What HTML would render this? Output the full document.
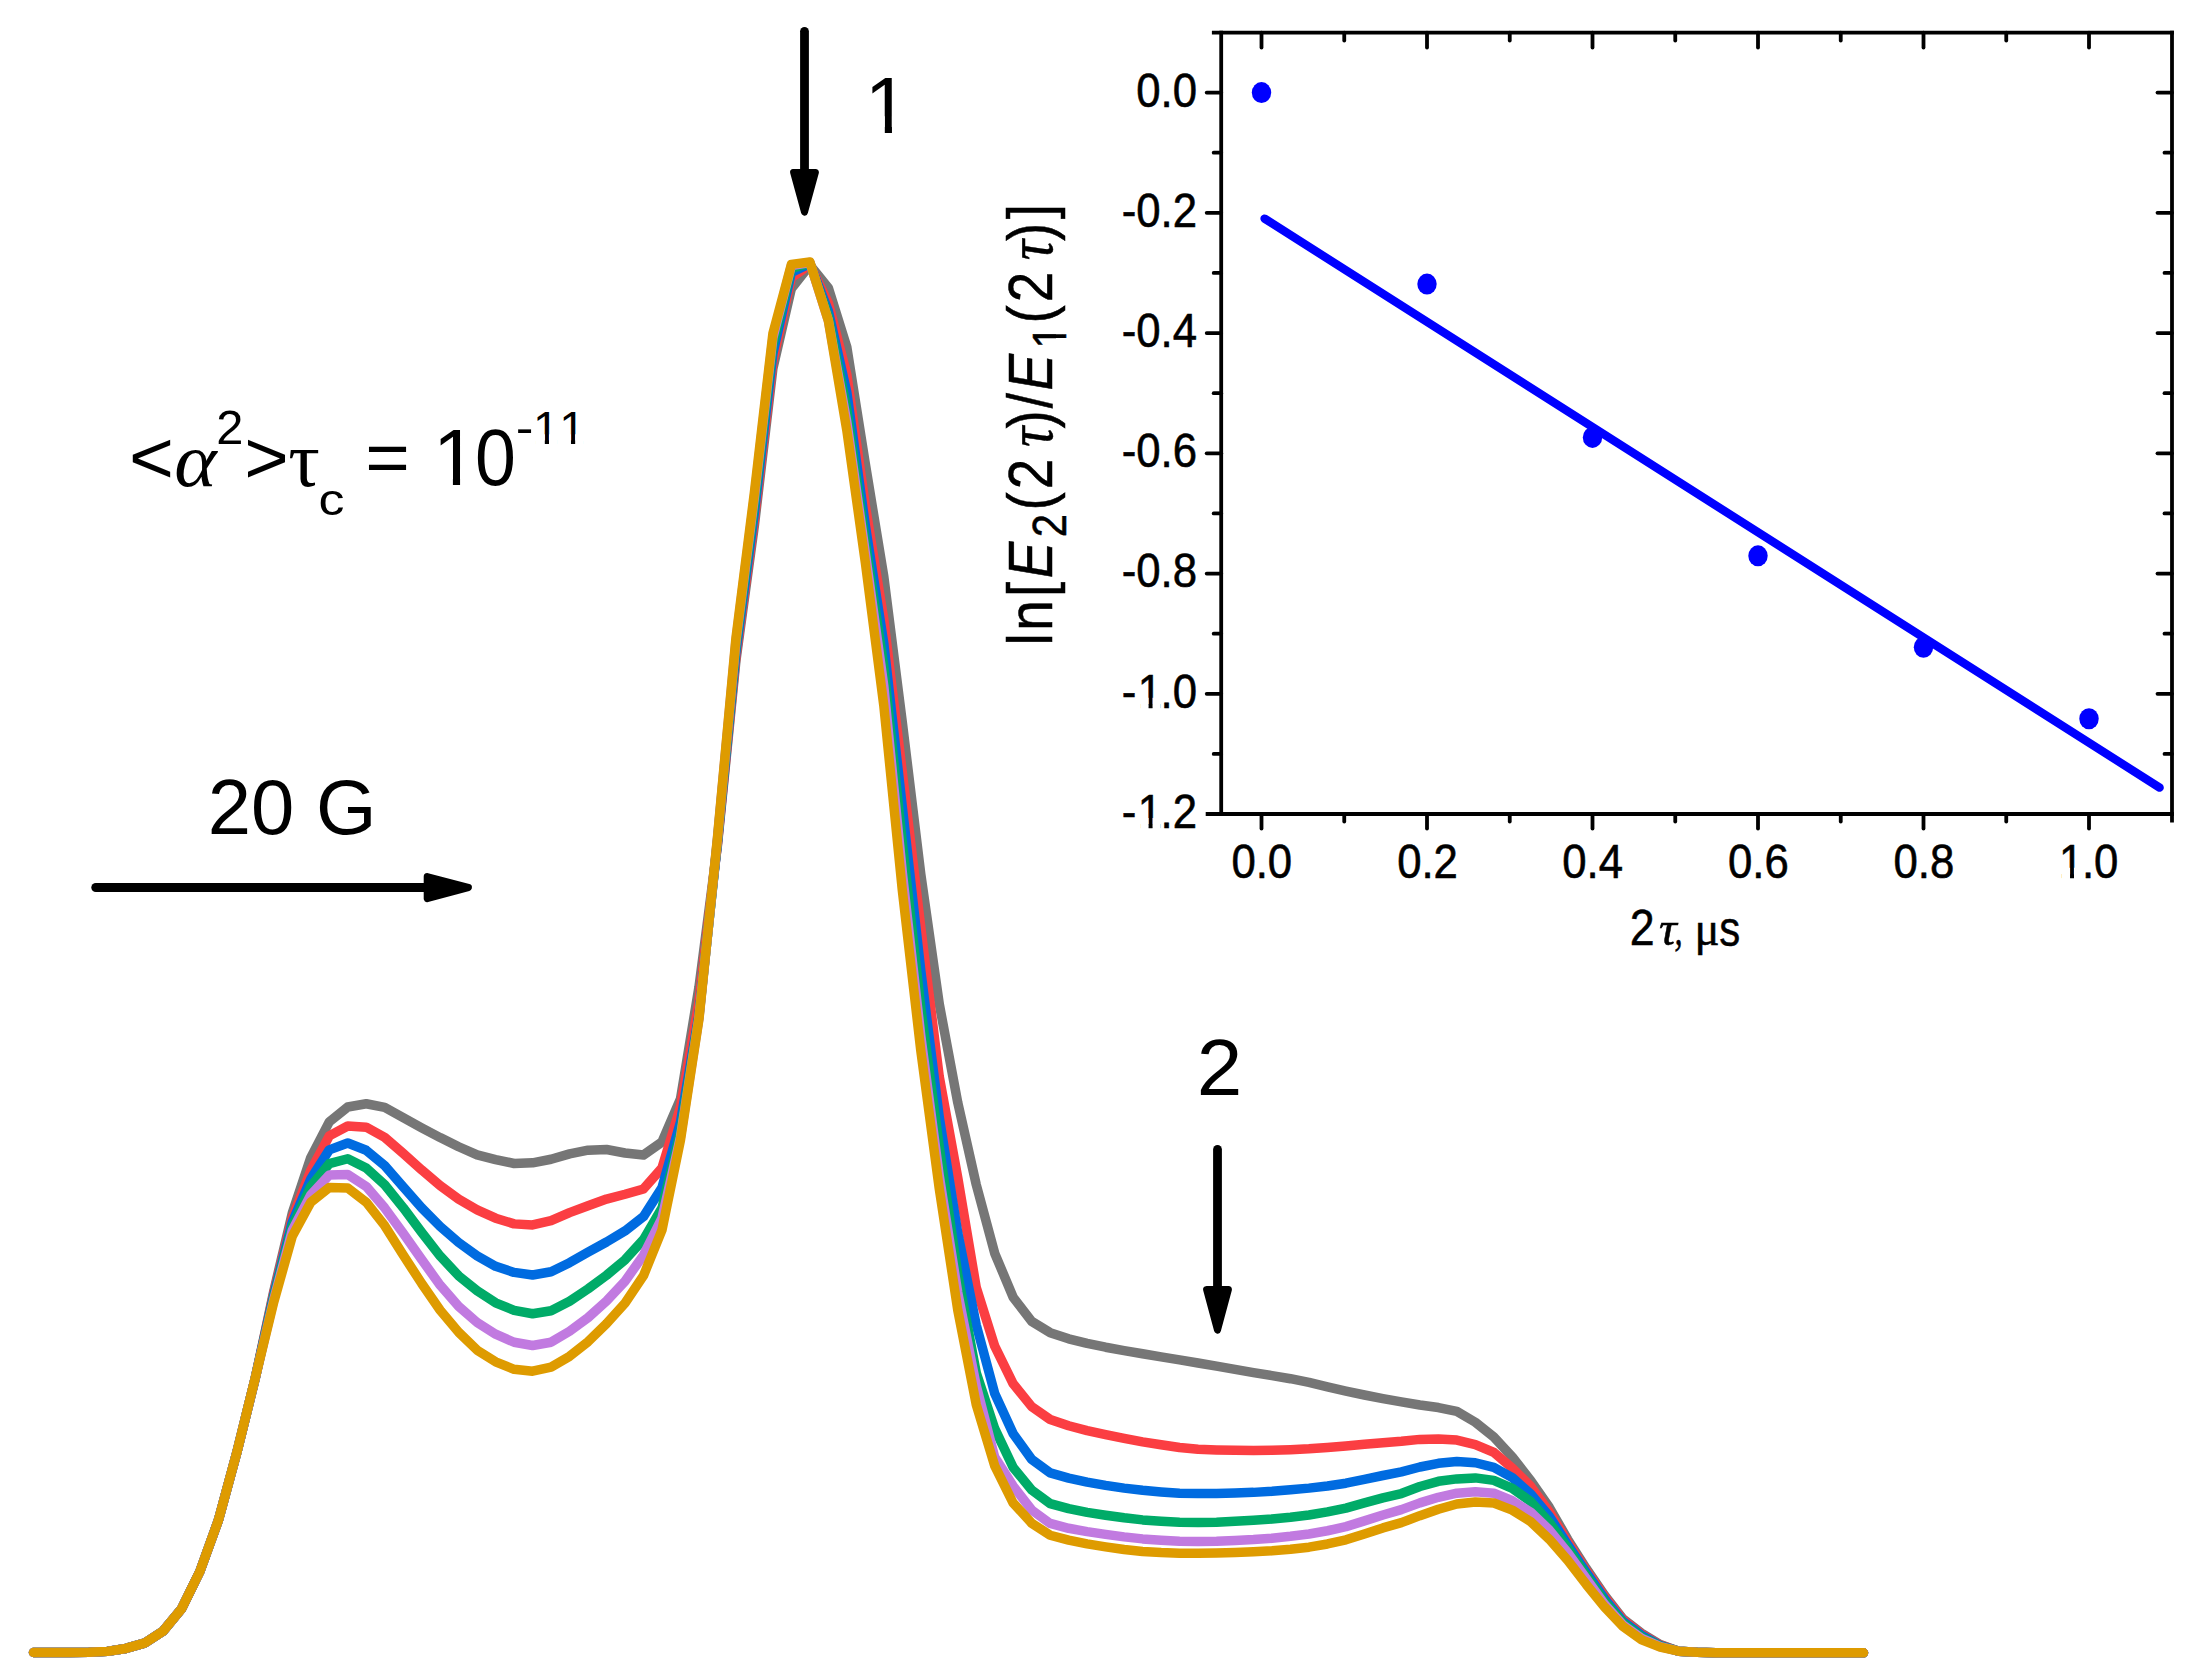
<!DOCTYPE html>
<html lang="en"><head><meta charset="utf-8">
<title>Echo-detected EPR spectra and relaxation inset</title>
<style>
html,body{margin:0;padding:0;background:#fff;}
body{width:2211px;height:1680px;overflow:hidden;}
svg{display:block;}
.sans{font-family:"Liberation Sans", Arial, Helvetica, sans-serif;}
.serif{font-family:"Liberation Serif", "Times New Roman", serif;}
</style></head><body>
<svg width="2211" height="1680" viewBox="0 0 2211 1680">
<rect x="0" y="0" width="2211" height="1680" fill="#ffffff"/>
<g fill="none" stroke-width="9.5" stroke-linejoin="round" stroke-linecap="round" transform="scale(1.0,1)">
<polyline stroke="#767676" points="33.5,1652.5 51.98,1652.48 70.47,1652.43 88.95,1652.34 107.44,1651.37 125.92,1648.44 144.41,1643.15 162.89,1631.36 181.38,1609.07 199.87,1571.5 218.35,1520.38 236.83,1452.62 255.32,1377.9 273.81,1290.98 292.29,1213.04 310.77,1157.56 329.26,1121.85 347.75,1106.97 366.23,1103.75 384.71,1107.42 403.2,1117.71 421.69,1127.9 440.17,1137.61 458.65,1146.77 477.14,1154.89 495.62,1159.57 514.11,1163.51 532.6,1162.85 551.08,1159.25 569.56,1153.85 588.05,1150.15 606.53,1149.54 625.02,1153 643.5,1155 661.99,1142 680.48,1099 698.96,987 717.44,845.38 735.93,660.59 754.41,525.3 772.9,368.42 791.38,288.5 809.87,265 828.36,288 846.84,347.27 865.32,463.81 883.81,576.56 902.29,722.19 920.78,873.95 939.26,1003.95 957.75,1102.51 976.24,1184.63 994.72,1253.33 1013.2,1297.33 1031.69,1321.39 1050.17,1332.67 1068.66,1338.82 1087.14,1343.41 1105.63,1347.21 1124.12,1350.58 1142.6,1353.74 1161.09,1356.87 1179.57,1359.91 1198.06,1362.97 1216.54,1366.16 1235.02,1369.4 1253.51,1372.6 1271.99,1375.6 1290.48,1378.71 1308.96,1382.42 1327.45,1386.87 1345.93,1391.1 1364.42,1395.02 1382.9,1398.64 1401.39,1401.89 1419.88,1404.95 1438.36,1407.54 1456.85,1411.44 1475.33,1422.25 1493.82,1436.92 1512.3,1456.97 1530.78,1480.61 1549.27,1507.25 1567.75,1539.46 1586.24,1568.53 1604.72,1595.4 1623.21,1619.1 1641.69,1633.26 1660.18,1644.52 1678.66,1651.19 1697.15,1652.35 1715.63,1652.68 1734.12,1652.79 1752.61,1652.8 1771.09,1652.8 1789.58,1652.8 1808.06,1652.8 1826.54,1652.8 1845.03,1652.8 1863.51,1652.8"/>
<polyline stroke="#fb3e42" points="33.5,1652.5 51.98,1652.48 70.47,1652.43 88.95,1652.34 107.44,1651.37 125.92,1648.44 144.41,1643.15 162.89,1631.36 181.38,1609.07 199.87,1571.5 218.35,1520.38 236.83,1452.62 255.32,1377.87 273.81,1292.98 292.29,1218.03 310.77,1170.56 329.26,1135.92 347.75,1126 366.23,1127.18 384.71,1137.31 403.2,1153.38 421.69,1169.97 440.17,1185.63 458.65,1199.11 477.14,1209.82 495.62,1218.18 514.11,1223.88 532.6,1224.95 551.08,1220.68 569.56,1212.68 588.05,1205.71 606.53,1199.07 625.02,1194.25 643.5,1188.96 661.99,1168 680.48,1107 698.96,1002 717.44,844.07 735.93,656.35 754.41,519.34 772.9,361.13 791.38,277.5 809.87,264.5 828.36,303 846.84,374.57 865.32,505.42 883.81,619.6 902.29,772.29 920.78,927.27 939.26,1076.71 957.75,1177.58 976.24,1287.52 994.72,1346.22 1013.2,1383.79 1031.69,1406.62 1050.17,1419.48 1068.66,1425.77 1087.14,1430.61 1105.63,1434.7 1124.12,1438.47 1142.6,1441.82 1161.09,1444.73 1179.57,1447.46 1198.06,1449.21 1216.54,1449.91 1235.02,1450.37 1253.51,1450.49 1271.99,1450.21 1290.48,1449.64 1308.96,1448.85 1327.45,1447.44 1345.93,1445.92 1364.42,1444.33 1382.9,1442.76 1401.39,1441.3 1419.88,1439.39 1438.36,1438.95 1456.85,1440.08 1475.33,1444.53 1493.82,1452.45 1512.3,1468.03 1530.78,1486.46 1549.27,1511.75 1567.75,1542.06 1586.24,1570.49 1604.72,1596.88 1623.21,1620.1 1641.69,1634.37 1660.18,1645.04 1678.66,1651.19 1697.15,1652.34 1715.63,1652.68 1734.12,1652.79 1752.61,1652.8 1771.09,1652.8 1789.58,1652.8 1808.06,1652.8 1826.54,1652.8 1845.03,1652.8 1863.51,1652.8"/>
<polyline stroke="#006be0" points="33.5,1652.5 51.98,1652.48 70.47,1652.43 88.95,1652.34 107.44,1651.37 125.92,1648.44 144.41,1643.15 162.89,1631.36 181.38,1609.07 199.87,1571.5 218.35,1520.38 236.83,1452.62 255.32,1377.85 273.81,1294.98 292.29,1222.03 310.77,1179.05 329.26,1149.86 347.75,1143 366.23,1150.29 384.71,1165.72 403.2,1186.93 421.69,1207.85 440.17,1226.51 458.65,1242.51 477.14,1255.78 495.62,1266.34 514.11,1272.41 532.6,1274.97 551.08,1271.72 569.56,1262.73 588.05,1252.11 606.53,1241.98 625.02,1230.91 643.5,1216.59 661.99,1187.5 680.48,1122 698.96,1015 717.44,842.53 735.93,651.57 754.41,512.53 772.9,353.42 791.38,272.5 809.87,263.5 828.36,311 846.84,392.39 865.32,525.42 883.81,643.56 902.29,806.81 920.78,970.65 939.26,1117.22 957.75,1232.88 976.24,1324.88 994.72,1393.45 1013.2,1433.78 1031.69,1459.35 1050.17,1472.87 1068.66,1478.1 1087.14,1482.14 1105.63,1485.4 1124.12,1488.11 1142.6,1490.31 1161.09,1491.93 1179.57,1493.14 1198.06,1493.59 1216.54,1493.44 1235.02,1492.98 1253.51,1492.37 1271.99,1491.32 1290.48,1489.84 1308.96,1488.14 1327.45,1485.97 1345.93,1483.22 1364.42,1479.45 1382.9,1475.52 1401.39,1471.8 1419.88,1466.98 1438.36,1463.29 1456.85,1461.51 1475.33,1462.75 1493.82,1467.33 1512.3,1477.64 1530.78,1493.99 1549.27,1516.28 1567.75,1544.75 1586.24,1572.48 1604.72,1598.97 1623.21,1621.69 1641.69,1635.37 1660.18,1645.56 1678.66,1651.2 1697.15,1652.34 1715.63,1652.68 1734.12,1652.79 1752.61,1652.8 1771.09,1652.8 1789.58,1652.8 1808.06,1652.8 1826.54,1652.8 1845.03,1652.8 1863.51,1652.8"/>
<polyline stroke="#00ab68" points="33.5,1652.5 51.98,1652.48 70.47,1652.43 88.95,1652.34 107.44,1651.37 125.92,1648.44 144.41,1643.15 162.89,1631.36 181.38,1609.07 199.87,1571.5 218.35,1520.38 236.83,1452.62 255.32,1377.82 273.81,1296.98 292.29,1226.03 310.77,1186.54 329.26,1163.67 347.75,1158.75 366.23,1167.91 384.71,1184.7 403.2,1207.66 421.69,1232.42 440.17,1256.07 458.65,1275.85 477.14,1290.75 495.62,1302.82 514.11,1310.35 532.6,1313.72 551.08,1310.73 569.56,1301.25 588.05,1288.89 606.53,1275.25 625.02,1259.79 643.5,1239.58 661.99,1208 680.48,1132 698.96,1016.5 717.44,840.66 735.93,645.97 754.41,504.31 772.9,344.79 791.38,268.5 809.87,263 828.36,316.5 846.84,409.27 865.32,541.5 883.81,666.32 902.29,842.33 920.78,1007.58 939.26,1146.8 957.75,1274.28 976.24,1372.74 994.72,1428.65 1013.2,1467.48 1031.69,1489.97 1050.17,1503.57 1068.66,1508.69 1087.14,1512.33 1105.63,1515.23 1124.12,1517.81 1142.6,1519.9 1161.09,1521.27 1179.57,1522.23 1198.06,1522.5 1216.54,1522.19 1235.02,1521.33 1253.51,1520.3 1271.99,1518.99 1290.48,1517.25 1308.96,1515.03 1327.45,1511.91 1345.93,1508.05 1364.42,1502.95 1382.9,1497.88 1401.39,1493.52 1419.88,1486.54 1438.36,1481.32 1456.85,1478.9 1475.33,1477.9 1493.82,1480.4 1512.3,1488.29 1530.78,1501.57 1549.27,1522.33 1567.75,1548.01 1586.24,1575.06 1604.72,1601.44 1623.21,1623.19 1641.69,1636.88 1660.18,1646.08 1678.66,1651.2 1697.15,1652.34 1715.63,1652.68 1734.12,1652.79 1752.61,1652.8 1771.09,1652.8 1789.58,1652.8 1808.06,1652.8 1826.54,1652.8 1845.03,1652.8 1863.51,1652.8"/>
<polyline stroke="#c17ae0" points="33.5,1652.5 51.98,1652.48 70.47,1652.43 88.95,1652.34 107.44,1651.37 125.92,1648.44 144.41,1643.15 162.89,1631.36 181.38,1609.07 199.87,1571.5 218.35,1520.38 236.83,1452.62 255.32,1377.79 273.81,1299.48 292.29,1230.53 310.77,1195.04 329.26,1174.97 347.75,1174.5 366.23,1186.41 384.71,1207.93 403.2,1233.2 421.69,1259.58 440.17,1285.21 458.65,1306.44 477.14,1322.47 495.62,1334.15 514.11,1342.26 532.6,1345.47 551.08,1342.2 569.56,1331.28 588.05,1317.6 606.53,1300.97 625.02,1281.18 643.5,1255.16 661.99,1218 680.48,1137 698.96,1018 717.44,838.98 735.93,641.12 754.41,496.87 772.9,337.56 791.38,265.5 809.87,262.5 828.36,320.5 846.84,422.06 865.32,552.97 883.81,686.1 902.29,872.2 920.78,1035.73 939.26,1175.82 957.75,1292.55 976.24,1385.78 994.72,1457.16 1013.2,1486.07 1031.69,1510 1050.17,1523.47 1068.66,1528.28 1087.14,1531.67 1105.63,1534.39 1124.12,1536.87 1142.6,1538.9 1161.09,1540.26 1179.57,1541.23 1198.06,1541.5 1216.54,1541.25 1235.02,1540.53 1253.51,1539.61 1271.99,1538.23 1290.48,1536.33 1308.96,1533.98 1327.45,1530.76 1345.93,1526.62 1364.42,1520.85 1382.9,1514.95 1401.39,1509.64 1419.88,1502.9 1438.36,1497.3 1456.85,1493.16 1475.33,1491.65 1493.82,1493.26 1512.3,1500.75 1530.78,1512.26 1549.27,1529.91 1567.75,1552.83 1586.24,1578.5 1604.72,1604.41 1623.21,1625.18 1641.69,1638.39 1660.18,1646.61 1678.66,1651.2 1697.15,1652.33 1715.63,1652.68 1734.12,1652.79 1752.61,1652.8 1771.09,1652.8 1789.58,1652.8 1808.06,1652.8 1826.54,1652.8 1845.03,1652.8 1863.51,1652.8"/>
<polyline stroke="#de9b00" points="33.5,1652.5 51.98,1652.48 70.47,1652.43 88.95,1652.34 107.44,1651.37 125.92,1648.44 144.41,1643.15 162.89,1631.36 181.38,1609.07 199.87,1571.5 218.35,1520.38 236.83,1452.62 255.32,1377.71 273.81,1301.86 292.29,1236.24 310.77,1202.18 329.26,1187.5 347.75,1188.02 366.23,1202.18 384.71,1225.66 403.2,1255.01 421.69,1283.53 440.17,1310.22 458.65,1332.26 477.14,1350.16 495.62,1361.81 514.11,1369.34 532.6,1371.22 551.08,1367.15 569.56,1356.29 588.05,1341.72 606.53,1323.68 625.02,1303.15 643.5,1275.66 661.99,1230 680.48,1140 698.96,1019 717.44,837.97 735.93,638.27 754.41,492.32 772.9,333.46 791.38,264.4 809.87,262 828.36,320.7 846.84,430.42 865.32,562.3 883.81,705.62 902.29,890.1 920.78,1050.51 939.26,1188.69 957.75,1310 976.24,1404.52 994.72,1465.93 1013.2,1503.02 1031.69,1523.18 1050.17,1535.26 1068.66,1540.19 1087.14,1543.88 1105.63,1546.83 1124.12,1549.45 1142.6,1551.48 1161.09,1552.61 1179.57,1553.32 1198.06,1553.32 1216.54,1553.03 1235.02,1552.53 1253.51,1551.86 1271.99,1550.79 1290.48,1549.25 1308.96,1547.18 1327.45,1543.98 1345.93,1539.82 1364.42,1533.93 1382.9,1527.94 1401.39,1522.66 1419.88,1515.67 1438.36,1509.2 1456.85,1503.98 1475.33,1501.98 1493.82,1503.03 1512.3,1510.12 1530.78,1521.77 1549.27,1539.22 1567.75,1560.4 1586.24,1584.44 1604.72,1607.13 1623.21,1626.68 1641.69,1639.9 1660.18,1647.13 1678.66,1651.21 1697.15,1652.33 1715.63,1652.68 1734.12,1652.79 1752.61,1652.8 1771.09,1652.8 1789.58,1652.8 1808.06,1652.8 1826.54,1652.8 1845.03,1652.8 1863.51,1652.8"/>
</g>
<g stroke="#000" fill="#000" stroke-linecap="round" stroke-linejoin="round">
<line x1="95.8" y1="887.5" x2="430" y2="887.5" stroke-width="9"/>
<polygon points="427.2,876.6 468.4,887.5 427.2,898.6" stroke-width="7"/>
<line x1="804.5" y1="31.3" x2="804.5" y2="175" stroke-width="8.8"/>
<polygon points="793.6,172.4 815.4,172.4 804.5,212.2" stroke-width="7"/>
<line x1="1217.5" y1="1149.4" x2="1217.5" y2="1292" stroke-width="8.8"/>
<polygon points="1206.6,1289.6 1228.4,1289.6 1217.5,1330.2" stroke-width="7"/>
</g>
<g fill="#000">
<text class="sans" transform="translate(862.28,132.6)" font-size="79.5px" x="2.6" clip-path="url(#lc1)">1</text>
<text class="sans" transform="translate(1196.85,1094.9) scale(1.04,1)" font-size="78.77px">2</text>
<text class="sans" transform="translate(207.84,834)" font-size="77.8px" x="0 43.27 86.54 108.15">20 G</text>
<text class="sans" transform="translate(129.01,482.61) scale(1.05,1)" font-size="73.26px">&lt;</text>
<text class="serif" font-style="italic" transform="translate(174.28,485.53) scale(1.07,1)" font-size="75.53px">α</text>
<text class="sans" transform="translate(216.35,444) scale(1.03,1)" font-size="47.4px">2</text>
<text class="sans" transform="translate(244.35,482.61) scale(1.04,1)" font-size="73.26px">&gt;</text>
<text class="serif" transform="translate(288.17,485.55) scale(1.02,1)" font-size="77.23px">τ</text>
<text class="sans" transform="translate(318.6,515.46) scale(1.15,1)" font-size="45.09px">c</text>
<text class="sans" transform="translate(365.27,481.99) scale(1.07,1)" font-size="71.37px">=</text>
<text class="sans" transform="translate(430.38,485)" font-size="79.5px" x="2.6" clip-path="url(#lc2)">1</text>
<text class="sans" transform="translate(475.03,485.32) scale(0.92,1)" font-size="79.94px">0</text>
<text class="sans" transform="translate(515.63,444) scale(1.13,1)" font-size="47px">-</text>
<text class="sans" transform="translate(531.49,444)" font-size="47px" x="1.54 27.68" clip-path="url(#lc3)">11</text>
</g>
<g stroke="#000" stroke-width="3.8" fill="none" stroke-linecap="butt">
<line x1="1221.2" y1="30.700000000000003" x2="1221.2" y2="815.9"/>
<line x1="2172.0" y1="30.700000000000003" x2="2172.0" y2="822.5"/>
<line x1="1211.9" y1="32.6" x2="2173.9" y2="32.6"/>
<line x1="1205.7" y1="814.0" x2="2173.9" y2="814.0"/>
</g>
<g stroke="#000" stroke-width="3.8" fill="none" stroke-linecap="round">
<line x1="1261.5" y1="814.0" x2="1261.5" y2="828.5"/>
<line x1="1261.5" y1="32.6" x2="1261.5" y2="47.6"/>
<line x1="1344.25" y1="814.0" x2="1344.25" y2="821.5"/>
<line x1="1344.25" y1="32.6" x2="1344.25" y2="40.6"/>
<line x1="1427" y1="814.0" x2="1427" y2="828.5"/>
<line x1="1427" y1="32.6" x2="1427" y2="47.6"/>
<line x1="1509.75" y1="814.0" x2="1509.75" y2="821.5"/>
<line x1="1509.75" y1="32.6" x2="1509.75" y2="40.6"/>
<line x1="1592.5" y1="814.0" x2="1592.5" y2="828.5"/>
<line x1="1592.5" y1="32.6" x2="1592.5" y2="47.6"/>
<line x1="1675.25" y1="814.0" x2="1675.25" y2="821.5"/>
<line x1="1675.25" y1="32.6" x2="1675.25" y2="40.6"/>
<line x1="1758" y1="814.0" x2="1758" y2="828.5"/>
<line x1="1758" y1="32.6" x2="1758" y2="47.6"/>
<line x1="1840.75" y1="814.0" x2="1840.75" y2="821.5"/>
<line x1="1840.75" y1="32.6" x2="1840.75" y2="40.6"/>
<line x1="1923.5" y1="814.0" x2="1923.5" y2="828.5"/>
<line x1="1923.5" y1="32.6" x2="1923.5" y2="47.6"/>
<line x1="2006.25" y1="814.0" x2="2006.25" y2="821.5"/>
<line x1="2006.25" y1="32.6" x2="2006.25" y2="40.6"/>
<line x1="2089" y1="814.0" x2="2089" y2="828.5"/>
<line x1="2089" y1="32.6" x2="2089" y2="47.6"/>
<line x1="1221.2" y1="753.92" x2="1213.7" y2="753.92"/>
<line x1="2172.0" y1="753.92" x2="2164.5" y2="753.92"/>
<line x1="1221.2" y1="693.8" x2="1206.7" y2="693.8"/>
<line x1="2172.0" y1="693.8" x2="2157.5" y2="693.8"/>
<line x1="1221.2" y1="633.68" x2="1213.7" y2="633.68"/>
<line x1="2172.0" y1="633.68" x2="2164.5" y2="633.68"/>
<line x1="1221.2" y1="573.56" x2="1206.7" y2="573.56"/>
<line x1="2172.0" y1="573.56" x2="2157.5" y2="573.56"/>
<line x1="1221.2" y1="513.44" x2="1213.7" y2="513.44"/>
<line x1="2172.0" y1="513.44" x2="2164.5" y2="513.44"/>
<line x1="1221.2" y1="453.32" x2="1206.7" y2="453.32"/>
<line x1="2172.0" y1="453.32" x2="2157.5" y2="453.32"/>
<line x1="1221.2" y1="393.2" x2="1213.7" y2="393.2"/>
<line x1="2172.0" y1="393.2" x2="2164.5" y2="393.2"/>
<line x1="1221.2" y1="333.08" x2="1206.7" y2="333.08"/>
<line x1="2172.0" y1="333.08" x2="2157.5" y2="333.08"/>
<line x1="1221.2" y1="272.96" x2="1213.7" y2="272.96"/>
<line x1="2172.0" y1="272.96" x2="2164.5" y2="272.96"/>
<line x1="1221.2" y1="212.84" x2="1206.7" y2="212.84"/>
<line x1="2172.0" y1="212.84" x2="2157.5" y2="212.84"/>
<line x1="1221.2" y1="152.72" x2="1213.7" y2="152.72"/>
<line x1="2172.0" y1="152.72" x2="2164.5" y2="152.72"/>
<line x1="1221.2" y1="92.6" x2="1206.7" y2="92.6"/>
<line x1="2172.0" y1="92.6" x2="2157.5" y2="92.6"/>
</g>
<g fill="#000" stroke="#000" stroke-width="0.6">
<text class="sans" transform="translate(1261.8,877.8) scale(0.9,1)" font-size="48.6px" x="-33.78 -6.75 6.75">0.0</text>
<text class="sans" transform="translate(1427.3,877.8) scale(0.9,1)" font-size="48.6px" x="-33.51 -6.48 7.02">0.2</text>
<text class="sans" transform="translate(1592.8,877.8) scale(0.9,1)" font-size="48.6px" x="-34.02 -6.99 6.51">0.4</text>
<text class="sans" transform="translate(1758.3,877.8) scale(0.9,1)" font-size="48.6px" x="-33.66 -6.63 6.87">0.6</text>
<text class="sans" transform="translate(1923.8,877.8) scale(0.9,1)" font-size="48.6px" x="-33.67 -6.64 6.86">0.8</text>
<text class="sans" transform="translate(2089.3,877.8) scale(0.9,1)" font-size="48.6px" x="-33.58 -8.14 5.36" clip-path="url(#lc4)">1.0</text>
<text class="sans" transform="translate(1197,106.5) scale(0.9,1)" font-size="48.6px" x="-67.56 -40.53 -27.03">0.0</text>
<text class="sans" transform="translate(1197,226.74) scale(0.9,1)" font-size="48.6px" x="-83.74 -67.56 -40.53 -27.03">-0.2</text>
<text class="sans" transform="translate(1197,346.98) scale(0.9,1)" font-size="48.6px" x="-83.74 -67.56 -40.53 -27.03">-0.4</text>
<text class="sans" transform="translate(1197,467.22) scale(0.9,1)" font-size="48.6px" x="-83.74 -67.56 -40.53 -27.03">-0.6</text>
<text class="sans" transform="translate(1197,587.46) scale(0.9,1)" font-size="48.6px" x="-83.74 -67.56 -40.53 -27.03">-0.8</text>
<text class="sans" transform="translate(1197,707.7) scale(0.9,1)" font-size="48.6px" x="-83.74 -65.97 -40.53 -27.03" clip-path="url(#lc5)">-1.0</text>
<text class="sans" transform="translate(1197,827.94) scale(0.9,1)" font-size="48.6px" x="-83.74 -65.97 -40.53 -27.03" clip-path="url(#lc6)">-1.2</text>
</g>
<g fill="#000" stroke="#000" stroke-width="0.5">
<text class="sans" transform="translate(1629.76,945.2) scale(0.9,1)" font-size="49.7px">2</text>
<text class="serif" font-style="italic" transform="translate(1658.91,945.34) scale(1.04,1)" font-size="47.57px">τ</text>
<text class="serif" font-style="italic" transform="translate(1674.52,945.05) scale(0.75,1)" font-size="43.22px">,</text>
<text class="serif" transform="translate(1694.4,944.8) scale(0.98,1)" font-size="47.71px">μ</text>
<text class="sans" transform="translate(1719.34,945.91) scale(0.83,1)" font-size="50.51px">s</text>
</g>
<g fill="#000" stroke="#000" stroke-width="0.5">
<text transform="translate(1052.4,642.3) rotate(-90) scale(0.87,1)" clip-path="url(#lc7)"><tspan class="sans" font-size="63px" x="-3.57" y="0">l</tspan><tspan class="sans" font-size="63px" x="13.18" y="0">n</tspan><tspan class="sans" font-size="63px" x="52.18" y="0">[</tspan><tspan class="sans" font-style="italic" font-size="63px" x="73.65" y="0">E</tspan><tspan class="sans" font-size="48px" x="120.79" y="13.5">2</tspan><tspan class="sans" font-size="63px" x="151.48" y="0">(</tspan><tspan class="sans" font-size="63px" x="176.04" y="0">2</tspan><tspan class="serif" font-style="italic" font-size="65px" x="224.37" y="0">τ</tspan><tspan class="sans" font-size="63px" x="245.76" y="0">)</tspan><tspan class="sans" font-size="63px" x="268.95" y="0">/</tspan><tspan class="sans" font-style="italic" font-size="63px" x="289.45" y="0">E</tspan><tspan class="sans" font-size="48px" x="337.7" y="13.5">1</tspan><tspan class="sans" font-size="63px" x="366.53" y="0">(</tspan><tspan class="sans" font-size="63px" x="390.87" y="0">2</tspan><tspan class="serif" font-style="italic" font-size="65px" x="439.08" y="0">τ</tspan><tspan class="sans" font-size="63px" x="461.34" y="0">)</tspan><tspan class="sans" font-size="63px" x="486.18" y="0">]</tspan></text>
</g>
<g fill="#0000ff" stroke="none">
<ellipse cx="1261.5" cy="92.6" rx="9.7" ry="10.5"/>
<ellipse cx="1427" cy="284.08" rx="9.7" ry="10.5"/>
<ellipse cx="1592.5" cy="437.39" rx="9.7" ry="10.5"/>
<ellipse cx="1758" cy="555.82" rx="9.7" ry="10.5"/>
<ellipse cx="1923.5" cy="647.21" rx="9.7" ry="10.5"/>
<ellipse cx="2089" cy="718.75" rx="9.7" ry="10.5"/>
</g>
<line x1="1264.6" y1="218.6" x2="2159.6" y2="787.6" stroke="#0000ff" stroke-width="8.4" stroke-linecap="round"/>
<defs>
<clipPath id="lc1" clipPathUnits="userSpaceOnUse"><path clip-rule="evenodd" d="M-3000 -3000H3000V3000H-3000ZM7.26 -16.3H22.53V7.76H7.26ZM29.68 -16.3H44.52V7.76H29.68Z"/></clipPath>
<clipPath id="lc2" clipPathUnits="userSpaceOnUse"><path clip-rule="evenodd" d="M-3000 -3000H3000V3000H-3000ZM7.26 -16.3H22.53V7.76H7.26ZM29.68 -16.3H44.52V7.76H29.68Z"/></clipPath>
<clipPath id="lc3" clipPathUnits="userSpaceOnUse"><path clip-rule="evenodd" d="M-3000 -3000H3000V3000H-3000ZM4.29 -9.64H13.32V4.59H4.29ZM17.54 -9.64H26.32V4.59H17.54ZM30.43 -9.64H39.46V4.59H30.43ZM43.68 -9.64H52.46V4.59H43.68Z"/></clipPath>
<clipPath id="lc4" clipPathUnits="userSpaceOnUse"><path clip-rule="evenodd" d="M-3000 -3000H3000V3000H-3000ZM-30.73 -9.97H-21.39V4.75H-30.73ZM-17.03 -9.97H-7.95V4.75H-17.03Z"/></clipPath>
<clipPath id="lc5" clipPathUnits="userSpaceOnUse"><path clip-rule="evenodd" d="M-3000 -3000H3000V3000H-3000ZM-63.12 -9.97H-53.79V4.75H-63.12ZM-49.42 -9.97H-40.34V4.75H-49.42Z"/></clipPath>
<clipPath id="lc6" clipPathUnits="userSpaceOnUse"><path clip-rule="evenodd" d="M-3000 -3000H3000V3000H-3000ZM-63.12 -9.97H-53.79V4.75H-63.12ZM-49.42 -9.97H-40.34V4.75H-49.42Z"/></clipPath>
<clipPath id="lc7" clipPathUnits="userSpaceOnUse"><path clip-rule="evenodd" d="M-3000 -3000H3000V3000H-3000ZM340.51 3.66H349.73V18.19H340.51ZM354.04 3.66H363.01V18.19H354.04Z"/></clipPath>
</defs>
</svg>
</body></html>
